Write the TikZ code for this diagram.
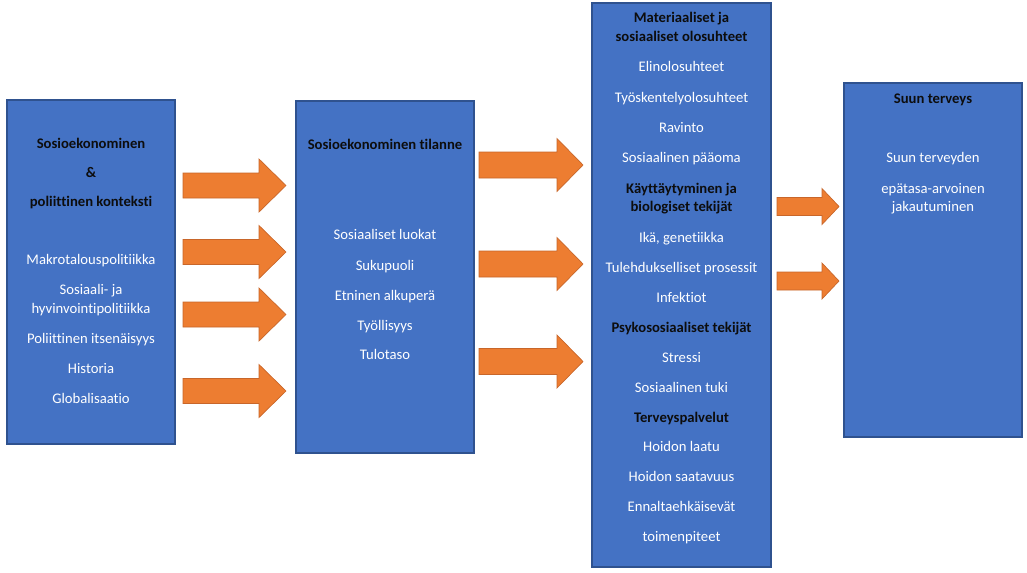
\documentclass[tikz,border=0pt]{standalone}
\usepackage{fontspec}
\setmainfont{Carlito}[Ligatures={NoCommon}]
\usetikzlibrary{fit}
\definecolor{boxblue}{HTML}{4472C4}
\definecolor{boxedge}{HTML}{2F528F}
\definecolor{arrfill}{HTML}{ED7D31}
\definecolor{arredge}{HTML}{C8662A}
\definecolor{darktxt}{HTML}{0D0D0D}
\begin{document}
\begin{tikzpicture}[x=0.75pt,y=-0.75pt,
  box/.style={draw=boxedge, fill=boxblue, line width=0.9pt, inner sep=0pt},
  txt/.style={text=white, font=\fontsize{11}{13}\selectfont, inner sep=0pt, text height=7pt, text depth=2pt, yshift=-1.5pt},
  head/.style={text=darktxt, font=\fontsize{11}{13}\selectfont\bfseries, inner sep=0pt, text height=7pt, text depth=2pt, yshift=-1.5pt},
  arr/.style={fill=arrfill, draw=arredge, line width=0.5pt, line join=miter}]
\useasboundingbox (0,0) rectangle (1027,572);
\fill[white] (0,0) rectangle (1027,572);

% boxes
\node[box, fit={(7,100) (175,444)}] (b1) {};
\node[box, fit={(296,101) (474,453)}] (b2) {};
\node[box, fit={(592,3) (771,567)}] (b3) {};
\node[box, fit={(844,83) (1022,437)}] (b4) {};

% box 1 texts
\node[head] (t1a) at (91,143) {Sosioekonominen};
\node[head] (t1b) at (91,172) {\&};
\node[head] (t1c) at (91,201) {poliittinen konteksti};
\node[txt] (t1d) at (91,259) {Makrotalouspolitiikka};
\node[txt] (t1e) at (91,289) {Sosiaali- ja};
\node[txt] (t1f) at (91,308) {hyvinvointipolitiikka};
\node[txt] (t1g) at (91,338) {Poliittinen itsenäisyys};
\node[txt] (t1h) at (91,368) {Historia};
\node[txt] (t1i) at (91,398) {Globalisaatio};

% box 2 texts
\node[head] (t2a) at (385,144) {Sosioekonominen tilanne};
\node[txt] (t2b) at (385,234) {Sosiaaliset luokat};
\node[txt] (t2c) at (385,265) {Sukupuoli};
\node[txt] (t2d) at (385,295) {Etninen alkuperä};
\node[txt] (t2e) at (385,325) {Työllisyys};
\node[txt] (t2f) at (385,354) {Tulotaso};

% box 3 texts
\node[head] (t3a) at (681.5,17) {Materiaaliset ja};
\node[head] (t3b) at (681.5,36) {sosiaaliset olosuhteet};
\node[txt] (t3c) at (681.5,66) {Elinolosuhteet};
\node[txt] (t3d) at (681.5,97) {Työskentelyolosuhteet};
\node[txt] (t3e) at (681.5,127) {Ravinto};
\node[txt] (t3f) at (681.5,157) {Sosiaalinen pääoma};
\node[head] (t3g) at (681.5,188) {Käyttäytyminen ja};
\node[head] (t3h) at (681.5,206) {biologiset tekijät};
\node[txt] (t3i) at (681.5,237) {Ikä, genetiikka};
\node[txt] (t3j) at (681.5,267) {Tulehdukselliset prosessit};
\node[txt] (t3k) at (681.5,297) {Infektiot};
\node[head] (t3l) at (681.5,327) {Psykososiaaliset tekijät};
\node[txt] (t3m) at (681.5,357) {Stressi};
\node[txt] (t3n) at (681.5,387) {Sosiaalinen tuki};
\node[head] (t3o) at (681.5,417) {Terveyspalvelut};
\node[txt] (t3p) at (681.5,446) {Hoidon laatu};
\node[txt] (t3q) at (681.5,476) {Hoidon saatavuus};
\node[txt] (t3r) at (681.5,506) {Ennaltaehkäisevät};
\node[txt] (t3s) at (681.5,536) {toimenpiteet};

% box 4 texts
\node[head] (t4a) at (933,98) {Suun terveys};
\node[txt] (t4b) at (933,157) {Suun terveyden};
\node[txt] (t4c) at (933,188) {epätasa-arvoinen};
\node[txt] (t4d) at (933,206) {jakautuminen};

% block arrows
\foreach \y in {185.5,252,314.5,391}
  \draw[arr] (183,\y-12.5) -- (259,\y-12.5) -- (259,\y-26.5) -- (286,\y) -- (259,\y+26.5) -- (259,\y+12.5) -- (183,\y+12.5) -- cycle;
\foreach \y in {165,264,361.5}
  \draw[arr] (479,\y-13) -- (557,\y-13) -- (557,\y-26.5) -- (583,\y) -- (557,\y+26.5) -- (557,\y+13) -- (479,\y+13) -- cycle;
\foreach \y in {206.5,281}
  \draw[arr] (777,\y-9) -- (822,\y-9) -- (822,\y-18) -- (839,\y) -- (822,\y+18) -- (822,\y+9) -- (777,\y+9) -- cycle;
\end{tikzpicture}
\end{document}
